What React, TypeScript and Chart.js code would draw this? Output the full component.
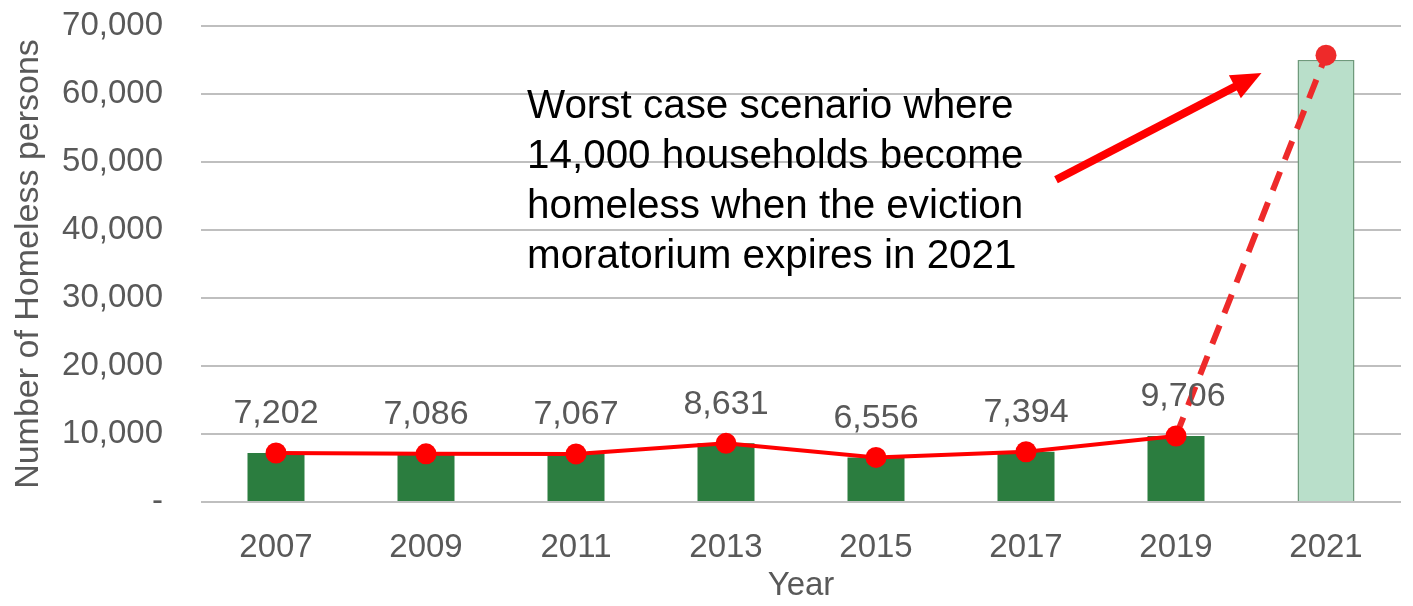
import React, { useEffect, useRef } from "react";
import { Chart, registerables } from "chart.js";
Chart.register(...registerables);

const years = ["2007", "2009", "2011", "2013", "2015", "2017", "2019", "2021"];
const barValues = [7202, 7086, 7067, 8631, 6556, 7394, 9706, 65000];
const lineValues = [7202, 7086, 7067, 8631, 6556, 7394, 9706, 65706];
const labelValues = ["7,202", "7,086", "7,067", "8,631", "6,556", "7,394", "9,706", ""];
const yTicks = [0, 10000, 20000, 30000, 40000, 50000, 60000, 70000];
const annotationLines = [
  "Worst case scenario where",
  "14,000 households become",
  "homeless when the eviction",
  "moratorium expires in 2021",
];

const FONT = "'Liberation Sans', Arial, sans-serif";
const GREY = "#595959";

const overlayPlugin = {
  id: "overlay",
  afterDatasetsDraw(chart: any) {
    const ctx = chart.ctx;
    const meta = chart.getDatasetMeta(1);
    ctx.save();
    ctx.font = `34px ${FONT}`;
    ctx.fillStyle = GREY;
    ctx.textAlign = "center";
    ctx.textBaseline = "middle";
    meta.data.forEach((pt: any, i: number) => {
      const t = labelValues[i];
      if (!t) return;
      const dx = i === 6 ? 7 : 0;
      ctx.fillText(t, pt.x + dx, pt.y - 39);
    });
    // annotation text
    const xs = chart.scales.x;
    const ys = chart.scales.y;
    const tx = xs.getPixelForValue(1) + 101;
    ctx.font = `40px ${FONT}`;
    ctx.fillStyle = "#000000";
    ctx.textAlign = "left";
    ctx.textBaseline = "alphabetic";
    annotationLines.forEach((l, i) => {
      ctx.save();
      ctx.translate(tx, ys.getPixelForValue(56470) + i * 50);
      ctx.scale(1.01, 1);
      ctx.fillText(l, 0, 0);
      ctx.restore();
    });
    // arrow
    const x0 = xs.getPixelForValue(5.2);
    const y0 = ys.getPixelForValue(47400);
    const x1 = xs.getPixelForValue(6.57);
    const y1 = ys.getPixelForValue(63100);
    const ang = Math.atan2(y1 - y0, x1 - x0);
    const headLen = 30;
    const headW = 13;
    ctx.strokeStyle = "#ff0000";
    ctx.fillStyle = "#ff0000";
    ctx.lineWidth = 8;
    ctx.beginPath();
    ctx.moveTo(x0, y0);
    ctx.lineTo(x1 - Math.cos(ang) * (headLen - 2), y1 - Math.sin(ang) * (headLen - 2));
    ctx.stroke();
    const bx = x1 - Math.cos(ang) * headLen;
    const by = y1 - Math.sin(ang) * headLen;
    ctx.beginPath();
    ctx.moveTo(x1, y1);
    ctx.lineTo(bx + Math.sin(ang) * headW, by - Math.cos(ang) * headW);
    ctx.lineTo(bx - Math.sin(ang) * headW, by + Math.cos(ang) * headW);
    ctx.closePath();
    ctx.fill();
    ctx.restore();
  },
};

export default function App() {
  const ref = useRef<HTMLCanvasElement>(null);
  useEffect(() => {
    document.body.style.margin = "0";
    const chart = new Chart(ref.current!, {
      type: "bar",
      data: {
        labels: years,
        datasets: [
          {
            type: "bar",
            data: barValues,
            backgroundColor: barValues.map((_, i) => (i === 7 ? "#b9dfca" : "#2b7d3f")),
            borderColor: barValues.map((_, i) => (i === 7 ? "#6f9a7c" : "#2b7d3f")),
            borderWidth: barValues.map((_, i) => (i === 7 ? 1.5 : 0)),
            barPercentage: 0.38,
            categoryPercentage: 1,
            order: 2,
          } as any,
          {
            type: "line",
            data: lineValues,
            borderColor: "#ff0000",
            borderWidth: 4,
            pointRadius: 10.5,
            pointBackgroundColor: lineValues.map((_, i) => (i === 7 ? "#ee2a2a" : "#ff0000")),
            pointBorderWidth: 0,
            tension: 0,
            order: 1,
            clip: false,
            segment: {
              borderDash: (c: any) => (c.p1DataIndex === 7 ? [20, 13] : undefined),
              borderColor: (c: any) => (c.p1DataIndex === 7 ? "#ee2a2a" : undefined),
              borderWidth: (c: any) => (c.p1DataIndex === 7 ? 6 : undefined),
            },
          } as any,
        ],
      },
      options: {
        animation: false,
        responsive: false,
        maintainAspectRatio: false,
        layout: { padding: { top: 26, right: 12, left: 0, bottom: 0 } },
        plugins: { legend: { display: false }, tooltip: { enabled: false } },
        scales: {
          x: {
            grid: { display: false },
            border: { display: false },
            ticks: { color: GREY, font: { size: 33, family: FONT }, padding: 18 },
            title: {
              display: true,
              text: "Year",
              color: GREY,
              font: { size: 33, family: FONT },
              padding: { top: 0, bottom: 0 },
            },
            afterFit: (s: any) => {
              s.height = 104;
            },
          },
          y: {
            min: 0,
            max: 70000,
            afterBuildTicks: (s: any) => {
              s.ticks = yTicks.map((v) => ({ value: v }));
            },
            grid: { color: "#bfbfbf", lineWidth: 2, drawTicks: false },
            border: { display: false },
            ticks: {
              color: GREY,
              font: { size: 33, family: FONT },
              padding: 38,
              callback: (v: any) => (v === 0 ? "-" : Number(v).toLocaleString("en-US")),
            },
            title: {
              display: true,
              text: "Number of Homeless persons",
              color: GREY,
              font: { size: 34, family: FONT },
              padding: { top: 8, bottom: 0 },
            },
            afterFit: (s: any) => {
              s.width = 201;
              s.paddingTop = 0;
              s.paddingBottom = 0;
            },
          },
        },
      },
      plugins: [overlayPlugin],
    });
    return () => chart.destroy();
  }, []);
  return (
    <div style={{ width: 1413, height: 606 }}>
      <canvas ref={ref} width={1413} height={606} style={{ display: "block" }} />
    </div>
  );
}
